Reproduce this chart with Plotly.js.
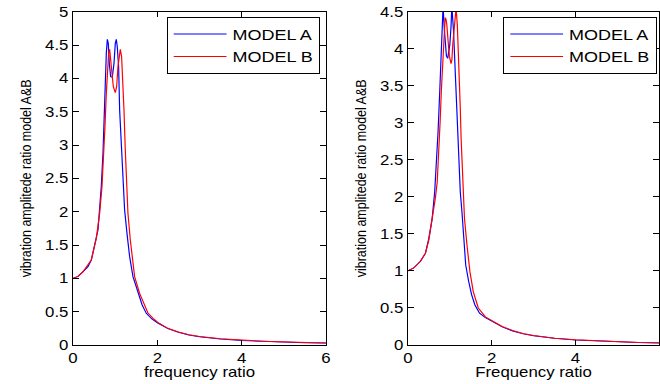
<!DOCTYPE html>
<html>
<head>
<meta charset="utf-8">
<script src="https://cdn.plot.ly/plotly-3.0.1.min.js"></script>
<style>
html,body{margin:0;padding:0;background:#fff;overflow:hidden;width:660px;height:384px;}
#plot{width:550px;height:384px;transform:scaleX(1.2);transform-origin:0 0;}
</style>
</head>
<body>
<div id="plot"></div>
<script>
// ---- data ----
const seriesNames = ["MODEL A", "MODEL B"];

const xLeftA = [0,0.12,0.24,0.355,0.434,0.49,0.553,0.592,0.616,0.648,0.67,0.711,0.735,0.758,0.79,0.814,0.837,0.861,0.893,0.932,0.972,1.003,1.027,1.05,1.082,1.106,1.145,1.185,1.224,1.28,1.343,1.422,1.54,1.64,1.738,1.87,2.01,2.25,2.5,2.75,3.0,3.5,4.0,4.5,4.9,5.5,6.0];
const yLeftA = [1.0,1.03,1.10,1.175,1.275,1.425,1.6,1.725,1.925,2.175,2.375,2.875,3.375,3.925,4.375,4.585,4.525,4.225,4.025,4.015,4.225,4.525,4.585,4.475,4.175,3.525,2.925,2.475,2.025,1.675,1.325,1.025,0.775,0.6,0.475,0.39,0.33,0.245,0.19,0.15,0.125,0.09,0.068,0.055,0.045,0.035,0.028];

const xLeftB = [0,0.12,0.237,0.434,0.553,0.632,0.687,0.727,0.758,0.79,0.82,0.845,0.869,0.893,0.924,0.956,1.003,1.035,1.066,1.098,1.122,1.153,1.185,1.209,1.24,1.264,1.303,1.359,1.406,1.461,1.58,1.68,1.777,1.9,2.01,2.25,2.5,2.75,3.0,3.5,4.0,4.5,4.9,5.5,6.0];
const yLeftB = [1.0,1.03,1.10,1.275,1.6,1.975,2.375,2.775,3.275,3.775,4.175,4.375,4.435,4.275,4.025,3.875,3.785,3.875,4.175,4.375,4.435,4.325,3.975,3.525,2.925,2.525,1.975,1.575,1.275,1.025,0.775,0.61,0.48,0.4,0.34,0.25,0.195,0.155,0.128,0.092,0.07,0.057,0.047,0.037,0.03];

const xRightA = [0,0.14,0.3,0.42,0.5,0.58,0.64,0.68,0.72,0.76,0.79,0.82,0.84,0.865,0.89,0.92,0.95,0.98,1.0,1.03,1.05,1.07,1.09,1.13,1.17,1.21,1.25,1.29,1.33,1.38,1.45,1.52,1.6,1.71,1.85,2.0,2.25,2.5,2.75,3.0,3.5,4.0,4.5,5.17,5.5,6.0];
const yRightA = [1.0,1.04,1.13,1.24,1.44,1.71,2.07,2.43,2.88,3.42,3.92,4.37,4.58,4.3,4.05,3.9,3.87,3.95,4.05,4.3,4.58,4.4,4.23,3.69,3.11,2.48,2.07,1.8,1.44,1.08,0.86,0.68,0.54,0.43,0.37,0.32,0.245,0.19,0.15,0.125,0.09,0.068,0.055,0.04,0.032,0.028];

const xRightB = [0,0.14,0.3,0.42,0.5,0.6,0.66,0.7,0.74,0.77,0.8,0.84,0.87,0.89,0.91,0.93,0.96,0.99,1.03,1.05,1.07,1.1,1.13,1.15,1.18,1.21,1.23,1.25,1.27,1.31,1.35,1.41,1.48,1.56,1.68,1.85,2.0,2.25,2.5,2.75,3.0,3.5,4.0,4.5,5.17,5.5,6.0];
const yRightB = [1.0,1.04,1.13,1.24,1.42,1.75,2.0,2.2,2.6,3.02,3.45,3.92,4.3,4.42,4.4,4.32,4.1,3.9,3.8,3.85,4.05,4.3,4.5,4.55,4.32,3.95,3.69,3.2,2.79,2.12,1.71,1.35,0.99,0.72,0.5,0.38,0.335,0.25,0.195,0.155,0.128,0.092,0.07,0.057,0.042,0.034,0.03];

const xTitleLeft = "frequency ratio";
const xTitleRight = "Frequency ratio";
const yTitle = "vibration amplitede ratio model A&B";
const xTicks = [0, 2, 4, 6];

// ---- chart ----
const FONT = "Liberation Sans, Arial, sans-serif";
const blue = "#0000ff", red = "#ff0000";

function tr(x, y, name, color, xa, ya, lg) {
  return {x: x, y: y, name: name, type: "scatter", mode: "lines",
          line: {color: color, width: 1}, xaxis: xa, yaxis: ya, legend: lg};
}
const data = [
  tr(xLeftA, yLeftA, seriesNames[0], blue, "x", "y", "legend"),
  tr(xLeftB, yLeftB, seriesNames[1], red, "x", "y", "legend"),
  tr(xRightA, yRightA, seriesNames[0], blue, "x2", "y2", "legend2"),
  tr(xRightB, yRightB, seriesNames[1], red, "x2", "y2", "legend2")
];

const baseX = {range: [0, 6], tickvals: xTicks, ticks: "inside", ticklen: 5, tickcolor: "#000",
  showline: true, linecolor: "#000", linewidth: 1, mirror: "ticks", showgrid: false, zeroline: false,
  tickfont: {family: FONT, size: 14, color: "#000"}, fixedrange: true};
const baseY = {dtick: 0.5, tick0: 0, ticks: "inside", ticklen: 5, tickcolor: "#000",
  showline: true, linecolor: "#000", linewidth: 1, mirror: "ticks", showgrid: false, zeroline: false,
  tickfont: {family: FONT, size: 14, color: "#000"}, fixedrange: true};
const legBase = {xanchor: "right", yanchor: "top", bgcolor: "#fff", bordercolor: "#000", borderwidth: 1,
  font: {family: FONT, size: 15, color: "#000"}, tracegroupgap: 0, itemwidth: 44};
const xTitleFont = {family: FONT, size: 14, color: "#000"};

const layout = {
  width: 550, height: 384,
  margin: {l: 0, r: 0, t: 0, b: 0, pad: 0},
  paper_bgcolor: "#fff", plot_bgcolor: "#fff",
  font: {family: FONT, color: "#000"},
  showlegend: true,
  xaxis: Object.assign({}, baseX, {domain: [0.1106, 0.494], anchor: "y"}),
  yaxis: Object.assign({}, baseY, {range: [0, 5], domain: [0.1016, 0.9695], anchor: "x",
    title: {text: yTitle, font: {family: FONT, size: 12.5, color: "#000"}}}),
  xaxis2: Object.assign({}, baseX, {domain: [0.618, 0.999], anchor: "y2"}),
  yaxis2: Object.assign({}, baseY, {range: [0, 4.5], domain: [0.1016, 0.9695], anchor: "x2",
    title: {text: yTitle, font: {family: FONT, size: 12.5, color: "#000"}}}),
  legend: Object.assign({}, legBase, {x: 0.485, y: 0.9565}),
  legend2: Object.assign({}, legBase, {x: 0.995, y: 0.9565}),
  annotations: [
    {text: xTitleLeft, xref: "x domain", x: 0.5, yref: "paper", y: 0.031, yanchor: "middle",
     showarrow: false, font: xTitleFont},
    {text: xTitleRight, xref: "x2 domain", x: 0.5, yref: "paper", y: 0.031, yanchor: "middle",
     showarrow: false, font: xTitleFont}
  ]
};

Plotly.newPlot("plot", data, layout, {staticPlot: true, displayModeBar: false});
</script>
</body>
</html>
